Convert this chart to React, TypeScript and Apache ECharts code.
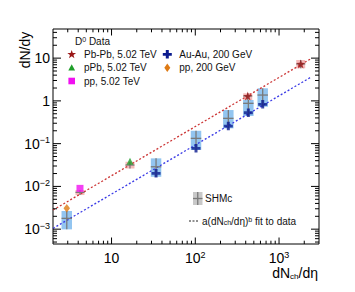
import React, { useEffect, useRef } from 'react';
import * as echarts from 'echarts';

// ---- data ----
const pbpbX = [423, 1815];
const pbpbY = [1.3, 7.3];
const ppbX = [16.6];
const ppbY = [0.039];
const pp5X = [4.2];
const pp5Y = [0.009];
const auauX = [34, 102, 248, 430, 638];
const auauY = [0.0202, 0.0777, 0.258, 0.528, 0.832];
const pp200X = [2.92];
const pp200Y = [0.0031];

// uncertainty / SHMc boxes
const lhcBoxX = [4.2, 16.6, 423, 1815];
const lhcBoxMid = [0.00726, 0.0316, 1.3, 7.3];
const lhcBoxLow = [0.00628, 0.0264, 1.05, 5.78];
const lhcBoxHigh = [0.00822, 0.0377, 1.5, 9.04];

const rhicBoxX = [2.92, 34, 102, 248, 430, 638];
const rhicBoxMid = [0.00179, 0.0288, 0.133, 0.391, 0.877, 1.37];
const rhicBoxLow = [0.00099, 0.0168, 0.071, 0.228, 0.443, 0.73];
const rhicBoxHigh = [0.00266, 0.0453, 0.2, 0.611, 1.05, 1.97];

// power-law fit lines (end points)
const fitLhcX = [2, 2450];
const fitLhcY = [0.0028, 9.9];
const fitRhicX = [2, 2450];
const fitRhicY = [0.00104, 3.67];

// axes
const xMin = 2;
const xMax = 3000;
const yMin = 4.5e-4;
const yMax = 48;
const xTickValues = [10, 100, 1000];
const xTickLabels = ['10', '10{sup|2}', '10{sup|3}'];
const yTickValues = [0.001, 0.01, 0.1, 1, 10];
const yTickLabels = ['10{sup|−3}', '10{sup|−2}', '10{sup|−1}', '1', '10'];
const minorMantissas = [2, 3, 4, 5, 6, 7, 8, 9];

const FONT = "'Liberation Sans', Arial, Helvetica, sans-serif";

function minorTicks(lo: number, hi: number): number[] {
  const out: number[] = [];
  for (let d = Math.floor(Math.log10(lo)) - 1; d <= Math.ceil(Math.log10(hi)); d++) {
    for (const m of minorMantissas) {
      const v = m * Math.pow(10, d);
      if (v > lo && v < hi) out.push(v);
    }
  }
  return out;
}

function labelFor(values: number[], labels: string[]) {
  return (v: number) => {
    for (let i = 0; i < values.length; i++) {
      if (Math.abs(Math.log10(v) - Math.log10(values[i])) < 1e-6) return labels[i];
    }
    return '';
  };
}

const starPts = (() => {
  const pts: number[][] = [];
  for (let k = 0; k < 10; k++) {
    const r = k % 2 === 0 ? 1 : 0.4;
    const a = (-90 + k * 36) * Math.PI / 180;
    pts.push([r * Math.cos(a), r * Math.sin(a)]);
  }
  return pts;
})();
const plusPts = [[-1, -3], [1, -3], [1, -1], [3, -1], [3, 1], [1, 1], [1, 3], [-1, 3], [-1, 1], [-3, 1], [-3, -1], [-1, -1]].map(p => [p[0] / 3, p[1] / 3]);
const toPath = (pts: number[][]) => 'path://M' + pts.map(p => `${(p[0] * 10).toFixed(2)},${(p[1] * 10).toFixed(2)}`).join(' L') + ' Z';
const starSymbol = toPath(starPts);
const plusSymbol = toPath(plusPts);

const C_STAR = '#9a1616';
const C_TRI = '#1f9e2a';
const C_SQ = '#f010f0';
const C_PLUS = '#0b1b8e';
const C_DIA = '#de7a14';

function boxSeries(xs: number[], mids: number[], lows: number[], highs: number[], w: number, color: string, z: number) {
  return {
    type: 'custom',
    coordinateSystem: 'cartesian2d',
    silent: true,
    z,
    encode: { x: 0, y: 1 },
    data: xs.map((x, i) => [x, mids[i], lows[i], highs[i]]),
    renderItem: (params: any, api: any) => {
      const x = api.value(0);
      const c = api.coord([x, api.value(1)]);
      const lo = api.coord([x, api.value(2)]);
      const hi = api.coord([x, api.value(3)]);
      return {
        type: 'rect',
        shape: { x: c[0] - w / 2, y: hi[1], width: w, height: lo[1] - hi[1] },
        style: { fill: color },
      };
    },
  };
}

function crossSeries(xs: number[], mids: number[], lows: number[], highs: number[], w: number, z: number) {
  return {
    type: 'custom',
    coordinateSystem: 'cartesian2d',
    silent: true,
    z,
    encode: { x: 0, y: 1 },
    data: xs.map((x, i) => [x, mids[i], lows[i], highs[i]]),
    renderItem: (params: any, api: any) => {
      const x = api.value(0);
      const c = api.coord([x, api.value(1)]);
      const lo = api.coord([x, api.value(2)]);
      const hi = api.coord([x, api.value(3)]);
      const st = { stroke: '#7a7a7a', lineWidth: 1.3 };
      return {
        type: 'group',
        children: [
          { type: 'line', shape: { x1: c[0], y1: hi[1], x2: c[0], y2: lo[1] }, style: st },
          { type: 'line', shape: { x1: c[0] - w / 2, y1: c[1], x2: c[0] + w / 2, y2: c[1] }, style: st },
        ],
      };
    },
  };
}

function tickSeries() {
  const xMinor = minorTicks(xMin, xMax);
  const yMinor = minorTicks(yMin, yMax);
  return {
    type: 'custom',
    coordinateSystem: 'cartesian2d',
    silent: true,
    clip: false,
    z: 20,
    encode: { x: 0, y: 1 },
    data: [[10, 1]],
    renderItem: (params: any, api: any) => {
      const cs = params.coordSys;
      const left = cs.x, right = cs.x + cs.width, top = cs.y, bottom = cs.y + cs.height;
      const st = { stroke: '#000', lineWidth: 1 };
      const ch: any[] = [];
      const addX = (v: number, len: number) => {
        const px = api.coord([v, 1])[0];
        ch.push({ type: 'line', shape: { x1: px, y1: bottom, x2: px, y2: bottom - len }, style: st });
        ch.push({ type: 'line', shape: { x1: px, y1: top, x2: px, y2: top + len }, style: st });
      };
      const addY = (v: number, len: number) => {
        const py = api.coord([10, v])[1];
        ch.push({ type: 'line', shape: { x1: left, y1: py, x2: left + len, y2: py }, style: st });
        ch.push({ type: 'line', shape: { x1: right, y1: py, x2: right - len, y2: py }, style: st });
      };
      xTickValues.forEach(v => addX(v, 6.5));
      xMinor.forEach(v => addX(v, 3.3));
      yTickValues.forEach(v => addY(v, 8));
      yMinor.forEach(v => addY(v, 4));
      return { type: 'group', children: ch };
    },
  };
}

const polyAt = (pts: number[][], cx: number, cy: number, sx: number, sy: number, color: string) => ({
  type: 'polygon',
  shape: { points: pts.map(p => [cx + p[0] * sx, cy + p[1] * sy]) },
  style: { fill: color },
});

export default function App() {
  const ref = useRef<HTMLDivElement>(null);
  useEffect(() => {
    if (!ref.current) return;
    const chart = echarts.init(ref.current, undefined, { renderer: 'svg' });
    const textStyle = { fontFamily: FONT, color: '#000' };
    const legendText = (text: string, x: number, y: number, rich?: any) => ({
      type: 'text',
      x,
      y,
      style: { text, fontFamily: FONT, fontSize: 10, fill: '#111', verticalAlign: 'middle', align: 'left', rich },
    });
    const smallRich = {
      sup: { fontFamily: FONT, fontSize: 7, lineHeight: 7, verticalAlign: 'top', fill: '#111' },
      sub: { fontFamily: FONT, fontSize: 7, lineHeight: 7, verticalAlign: 'bottom', fill: '#111' },
    };
    const option: any = {
      animation: false,
      textStyle,
      grid: { left: 53, top: 29, width: 266, height: 215, show: true, borderColor: '#000', borderWidth: 1, backgroundColor: 'transparent' },
      xAxis: {
        type: 'log',
        logBase: 10,
        min: xMin,
        max: xMax,
        axisLine: { show: false },
        axisTick: { show: false },
        splitLine: { show: false },
        axisLabel: {
          margin: 6,
          fontSize: 14,
          lineHeight: 15,
          fontFamily: FONT,
          color: '#000',
          formatter: labelFor(xTickValues, xTickLabels),
          rich: { sup: { fontSize: 9, lineHeight: 9, verticalAlign: 'top', fontFamily: FONT, color: '#000' } },
        },
      },
      yAxis: {
        type: 'log',
        logBase: 10,
        min: yMin,
        max: yMax,
        axisLine: { show: false },
        axisTick: { show: false },
        splitLine: { show: false },
        axisLabel: {
          margin: 3,
          fontSize: 14,
          lineHeight: 16,
          fontFamily: FONT,
          color: '#000',
          formatter: labelFor(yTickValues, yTickLabels),
          rich: { sup: { fontSize: 9, lineHeight: 9, verticalAlign: 'top', fontFamily: FONT, color: '#000' } },
        },
      },
      graphic: [
        { type: 'text', x: 25, y: 50, rotation: Math.PI / 2, style: { text: 'dN/dy', fontFamily: FONT, fontSize: 14, fill: '#000', align: 'center', verticalAlign: 'middle' } },
        {
          type: 'text', x: 318, y: 273,
          style: {
            text: 'dN{sub|ch}/dη', fontFamily: FONT, fontSize: 14, lineHeight: 14, fill: '#000', align: 'right', verticalAlign: 'middle',
            rich: { sub: { fontFamily: FONT, fontSize: 8, lineHeight: 6, verticalAlign: 'bottom', fill: '#000' } },
          },
        },
        legendText('D{sup|0} Data', 75, 41.3, smallRich),
        polyAt(starPts, 71.7, 54.5, 4.6, 4.6, C_STAR),
        legendText('Pb-Pb, 5.02 TeV', 84, 54.3),
        polyAt([[0, -1], [1, 0.75], [-1, 0.75]], 71.7, 67.9, 3.4, 3.6, C_TRI),
        legendText('pPb, 5.02 TeV', 84, 67.7),
        polyAt([[-1, -1], [1, -1], [1, 1], [-1, 1]], 71.7, 81, 3.3, 3.3, C_SQ),
        legendText('pp, 5.02 TeV', 84, 81),
        polyAt(plusPts, 167.3, 54.3, 4.5, 4.2, C_PLUS),
        legendText('Au-Au, 200 GeV', 179.3, 54.3),
        polyAt([[0, -1], [1, 0], [0, 1], [-1, 0]], 167.3, 67.7, 3, 4.3, C_DIA),
        legendText('pp, 200 GeV', 179.3, 67.7),
        { type: 'rect', shape: { x: 193, y: 192, width: 9.5, height: 13 }, style: { fill: '#c8c8c8' } },
        { type: 'line', shape: { x1: 197.75, y1: 192, x2: 197.75, y2: 205 }, style: { stroke: '#7a7a7a', lineWidth: 1.3 } },
        { type: 'line', shape: { x1: 193, y1: 198.5, x2: 202.5, y2: 198.5 }, style: { stroke: '#7a7a7a', lineWidth: 1.3 } },
        legendText('SHMc', 205, 198.5),
        { type: 'line', shape: { x1: 189, y1: 221, x2: 199.5, y2: 221 }, style: { stroke: '#222', lineWidth: 1, lineDash: [2, 1.5] } },
        legendText('a(dN{sub|ch}/dη){sup|b} fit to data', 202, 221, smallRich),
      ],
      series: [
        boxSeries(rhicBoxX, rhicBoxMid, rhicBoxLow, rhicBoxHigh, 10.5, '#93c5f0', 1),
        boxSeries(lhcBoxX, lhcBoxMid, lhcBoxLow, lhcBoxHigh, 9, '#f6b9b9', 2),
        {
          type: 'line', name: 'fitLHC', data: fitLhcX.map((x, i) => [x, fitLhcY[i]]), symbol: 'none', silent: true, z: 3,
          lineStyle: { color: '#cc3535', width: 1.3, type: [2, 2] },
        },
        {
          type: 'line', name: 'fitRHIC', data: fitRhicX.map((x, i) => [x, fitRhicY[i]]), symbol: 'none', silent: true, z: 3,
          lineStyle: { color: '#3a3ae6', width: 1.3, type: [2, 2] },
        },
        crossSeries(rhicBoxX, rhicBoxMid, rhicBoxLow, rhicBoxHigh, 10.5, 4),
        crossSeries(lhcBoxX, lhcBoxMid, lhcBoxLow, lhcBoxHigh, 9, 4),
        { type: 'scatter', name: 'Pb-Pb, 5.02 TeV', data: pbpbX.map((x, i) => [x, pbpbY[i]]), symbol: starSymbol, symbolSize: 9, itemStyle: { color: C_STAR }, z: 6 },
        { type: 'scatter', name: 'pPb, 5.02 TeV', data: ppbX.map((x, i) => [x, ppbY[i]]), symbol: 'triangle', symbolSize: 7, itemStyle: { color: C_TRI }, z: 6 },
        { type: 'scatter', name: 'pp, 5.02 TeV', data: pp5X.map((x, i) => [x, pp5Y[i]]), symbol: 'rect', symbolSize: 7, itemStyle: { color: C_SQ }, z: 6 },
        { type: 'scatter', name: 'Au-Au, 200 GeV', data: auauX.map((x, i) => [x, auauY[i]]), symbol: plusSymbol, symbolSize: [9, 8.5], itemStyle: { color: C_PLUS }, z: 6 },
        { type: 'scatter', name: 'pp, 200 GeV', data: pp200X.map((x, i) => [x, pp200Y[i]]), symbol: 'diamond', symbolSize: [6.5, 8.5], itemStyle: { color: C_DIA }, z: 6 },
        tickSeries(),
      ],
    };
    chart.setOption(option);
    return () => chart.dispose();
  }, []);
  return <div ref={ref} style={{ position: 'absolute', left: 0, top: 0, width: 355, height: 292 }} />;
}
